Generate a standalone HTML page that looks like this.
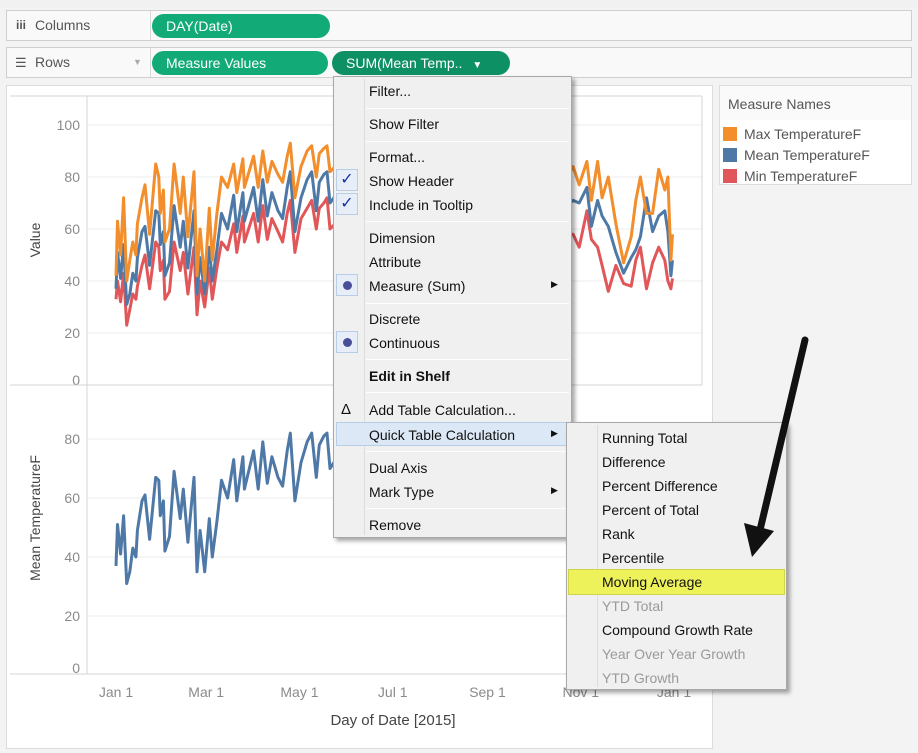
<!DOCTYPE html>
<html><head><meta charset="utf-8">
<style>
*{box-sizing:border-box;margin:0;padding:0}
body{width:918px;height:753px;background:#f3f3f3;font-family:"Liberation Sans",sans-serif;position:relative;overflow:hidden;color:#333}
.abs{position:absolute}
.shelf{position:absolute;left:6px;width:906px;background:#f9f9f9;border:1px solid #cfcfcf}
.shelf .lab{position:absolute;left:0;top:0;bottom:0;width:144px;border-right:1px solid #d8d8d8;font-size:14px;color:#555;padding-left:28px;line-height:29px}
.pill{position:absolute;height:24px;border-radius:12px;background:#12ab78;color:#fff;font-size:14px;line-height:24px;padding-left:14px}
.menu{position:absolute;background:#f0f0f0;border:1px solid #a8a8a8;box-shadow:3px 3px 4px rgba(0,0,0,.35)}
.mi{position:absolute;font-size:14px;color:#111;white-space:nowrap}
.sep{position:absolute;height:1px;background:#d7d7d7;border-bottom:1px solid #fff}
.gray{color:#9a9a9a}
.tick{font-size:14px;fill:#8a8a8a;font-family:"Liberation Sans",sans-serif}
</style></head><body>
<div class="abs" style="left:0;top:0;width:918px;height:8px;background:#f1f1f1"></div>

<div class="shelf" style="top:10px;height:31px">
  <div class="lab"><span style="position:absolute;left:9px;font-size:12px;font-weight:bold">iii</span>Columns</div>
  <div class="pill" style="left:145px;top:3px;width:178px">DAY(Date)</div>
</div>
<div class="shelf" style="top:47px;height:31px">
  <div class="lab"><span style="position:absolute;left:8px;font-size:13px">☰</span>Rows<span style="position:absolute;left:126px;font-size:9px;color:#aaa">▼</span></div>
  <div class="pill" style="left:145px;top:3px;width:176px">Measure Values</div>
  <div class="pill" style="left:325px;top:3px;width:178px;background:#0e9065">SUM(Mean Temp.. <span style="font-size:10px;margin-left:6px">▼</span></div>
</div>

<div class="abs" style="left:6px;top:85px;width:707px;height:664px;background:#fff;border:1px solid #dcdcdc"></div>

<svg class="abs" style="left:0;top:0" width="918" height="753" id="chart"></svg>

<div class="abs" style="left:719px;top:85px;width:193px;height:100px;background:#fff;border:1px solid #dcdcdc">
  <div class="abs" style="left:0;top:0;width:191px;height:34px;background:#fafafa;font-size:14px;color:#555;padding:10px 0 0 8px">Measure Names</div>
  <div class="abs" style="left:3px;top:38px;font-size:14px;color:#555;line-height:21px">
    <div><span style="display:inline-block;width:14px;height:14px;background:#f28e2b;vertical-align:-2px;margin-right:7px"></span>Max TemperatureF</div>
    <div><span style="display:inline-block;width:14px;height:14px;background:#4e79a7;vertical-align:-2px;margin-right:7px"></span>Mean TemperatureF</div>
    <div><span style="display:inline-block;width:14px;height:14px;background:#e15759;vertical-align:-2px;margin-right:7px"></span>Min TemperatureF</div>
  </div>
</div>

<div class="menu" style="left:333px;top:76px;width:239px;height:462px">
  <div class="abs" style="left:30px;top:2px;width:1px;height:456px;background:#dcdcdc"></div>
  <div class="mi" style="left:35px;top:6px">Filter...</div>
  <div class="sep" style="left:32px;top:31px;width:203px"></div>
  <div class="mi" style="left:35px;top:39px">Show Filter</div>
  <div class="sep" style="left:32px;top:64px;width:203px"></div>
  <div class="mi" style="left:35px;top:72px">Format...</div>
  <div class="abs" style="left:2px;top:92px;width:22px;height:22px;border:1px solid #b9cde6;background:#e7eef8;color:#1a2ea8;font-size:16px;text-align:center;line-height:20px">✓</div>
  <div class="mi" style="left:35px;top:96px">Show Header</div>
  <div class="abs" style="left:2px;top:116px;width:22px;height:22px;border:1px solid #b9cde6;background:#e7eef8;color:#1a2ea8;font-size:16px;text-align:center;line-height:20px">✓</div>
  <div class="mi" style="left:35px;top:120px">Include in Tooltip</div>
  <div class="sep" style="left:32px;top:144px;width:203px"></div>
  <div class="mi" style="left:35px;top:153px">Dimension</div>
  <div class="mi" style="left:35px;top:177px">Attribute</div>
  <div class="abs" style="left:2px;top:197px;width:22px;height:22px;border:1px solid #b9cde6;background:#e7eef8"><div style="margin:6px;width:9px;height:9px;border-radius:50%;background:#4a4f9a"></div></div>
  <div class="mi" style="left:35px;top:201px">Measure (Sum)</div>
  <div class="mi" style="left:217px;top:202px;font-size:9px">▶</div>
  <div class="sep" style="left:32px;top:226px;width:203px"></div>
  <div class="mi" style="left:35px;top:234px">Discrete</div>
  <div class="abs" style="left:2px;top:254px;width:22px;height:22px;border:1px solid #b9cde6;background:#e7eef8"><div style="margin:6px;width:9px;height:9px;border-radius:50%;background:#4a4f9a"></div></div>
  <div class="mi" style="left:35px;top:258px">Continuous</div>
  <div class="sep" style="left:32px;top:282px;width:203px"></div>
  <div class="mi" style="left:35px;top:291px;font-weight:bold">Edit in Shelf</div>
  <div class="sep" style="left:32px;top:315px;width:203px"></div>
  <div class="mi" style="left:7px;top:324px;font-size:15px">Δ</div>
  <div class="mi" style="left:35px;top:325px">Add Table Calculation...</div>
  <div class="abs" style="left:2px;top:345px;width:234px;height:24px;background:#dde8f6;border:1px solid #b8cde8"></div>
  <div class="mi" style="left:35px;top:350px">Quick Table Calculation</div>
  <div class="mi" style="left:217px;top:351px;font-size:9px">▶</div>
  <div class="sep" style="left:32px;top:374px;width:203px"></div>
  <div class="mi" style="left:35px;top:383px">Dual Axis</div>
  <div class="mi" style="left:35px;top:407px">Mark Type</div>
  <div class="mi" style="left:217px;top:408px;font-size:9px">▶</div>
  <div class="sep" style="left:32px;top:431px;width:203px"></div>
  <div class="mi" style="left:35px;top:440px">Remove</div>
</div>

<div class="menu" style="left:566px;top:422px;width:221px;height:268px">
  <div class="abs" style="left:30px;top:2px;width:1px;height:262px;background:#dcdcdc"></div>
  <div class="mi" style="left:35px;top:7px">Running Total</div>
  <div class="mi" style="left:35px;top:31px">Difference</div>
  <div class="mi" style="left:35px;top:55px">Percent Difference</div>
  <div class="mi" style="left:35px;top:79px">Percent of Total</div>
  <div class="mi" style="left:35px;top:103px">Rank</div>
  <div class="mi" style="left:35px;top:127px">Percentile</div>
  <div class="abs" style="left:1px;top:146px;width:217px;height:26px;background:#eef25a;border:1px solid #cfd44a"></div>
  <div class="mi" style="left:35px;top:151px">Moving Average</div>
  <div class="mi gray" style="left:35px;top:175px">YTD Total</div>
  <div class="mi" style="left:35px;top:199px">Compound Growth Rate</div>
  <div class="mi gray" style="left:35px;top:223px">Year Over Year Growth</div>
  <div class="mi gray" style="left:35px;top:247px">YTD Growth</div>
</div>

<svg class="abs" style="left:0;top:0" width="918" height="753">
  <line x1="805" y1="340" x2="760" y2="530" stroke="#111" stroke-width="7" stroke-linecap="round"/>
  <polygon points="752,557 744,523 774,531" fill="#111"/>
</svg>

<script>
const days=[0,1,3,5,7,9,11,13,14,17,19,22,26,28,29,31,32,35,38,42,44,47,51,53,55,58,61,63,66,69,73,77,79,83,84,90,93,96,99,102,106,109,112,114,117,121,125,128,131,133,136,138,140,145,152,160,168,176,184,192,200,208,216,224,232,240,248,256,264,272,280,288,295,299,303,308,311,315,318,322,327,332,337,340,343,347,351,355,359,361,363,364];
const meanT=[37,51,41,54,31,35,43,40,49,59,61,46,67,66,54,59,42,47,69,53,63,45,67,35,49,35,53,40,52,66,60,73,59,74,63,76,63,79,65,74,67,64,76,82,59,72,79,82,67,78,81,82,70,74,77,72,78,75,80,77,79,74,78,76,73,77,70,74,68,72,66,70,69,71,70,76,61,71,65,61,51,43,49,52,57,72,59,65,67,59,42,48];
const maxT=[42,63,50,72,40,48,55,50,62,72,77,58,85,80,66,75,55,60,85,66,80,57,82,42,60,40,68,48,66,80,76,85,74,87,76,88,76,90,78,86,81,78,88,93,72,84,90,92,80,89,91,92,82,85,88,84,89,86,91,88,90,85,89,87,84,88,81,85,79,83,77,81,80,84,77,86,71,86,72,80,62,47,57,71,80,66,66,83,75,80,48,58];
const minT=[33,40,32,43,23,29,35,33,38,46,50,37,55,53,44,48,33,36,55,44,51,35,53,27,40,30,45,33,45,55,52,62,51,65,55,66,55,69,56,64,59,55,66,71,51,64,68,71,60,68,70,72,60,63,66,62,67,64,69,66,68,63,67,65,62,66,59,63,57,61,55,59,58,58,53,67,56,53,46,36,46,39,38,48,53,37,47,53,48,40,37,41];
const xTicks=["Jan 1","Mar 1","May 1","Jul 1","Sep 1","Nov 1","Jan 1"];
const xTickDays=[0,59,120,181,243,304,365];
const topTicks=[0,20,40,60,80,100];
const botTicks=[0,20,40,60,80];

const NS="http://www.w3.org/2000/svg";
const svg=document.getElementById('chart');
function mk(tag,attrs,parent){const e=document.createElementNS(NS,tag);for(const k in attrs)e.setAttribute(k,attrs[k]);(parent||svg).appendChild(e);return e;}
const x=d=>116+d*(558/365);
const yTop=v=>385-v*2.6;
const yBot=v=>675-v*2.95;

// gridlines
topTicks.forEach(t=>{if(t>0){const l=mk('line',{x1:87,x2:702,y1:yTop(t),y2:yTop(t),stroke:'#ececec'});

}
const tx=mk('text',{x:80,y:Math.min(yTop(t),380)+5,'text-anchor':'end',class:'tick'});tx.textContent=t;

});
botTicks.forEach(t=>{if(t>0){const l=mk('line',{x1:87,x2:702,y1:yBot(t),y2:yBot(t),stroke:'#ececec'});

}
const tx=mk('text',{x:80,y:Math.min(yBot(t),668)+5,'text-anchor':'end',class:'tick'});tx.textContent=t;

});
// frame lines
mk('line',{x1:10,x2:702,y1:96,y2:96,stroke:'#d4d4d4'});
mk('line',{x1:10,x2:702,y1:385,y2:385,stroke:'#d4d4d4'});
mk('line',{x1:10,x2:702,y1:674,y2:674,stroke:'#d4d4d4'});
mk('line',{x1:87,x2:87,y1:96,y2:674,stroke:'#d4d4d4'});
mk('line',{x1:702,x2:702,y1:96,y2:385,stroke:'#d4d4d4'});
xTicks.forEach((t,i)=>{const tx=mk('text',{x:x(xTickDays[i]),y:697,'text-anchor':'middle',class:'tick'});tx.textContent=t;

});
const xt=mk('text',{x:393,y:725,'text-anchor':'middle',style:'font-size:15px;fill:#444'});xt.textContent='Day of Date [2015]';


const y1=mk('text',{x:0,y:0,transform:'translate(40,240) rotate(-90)','text-anchor':'middle',style:'font-size:14px;fill:#444'});y1.textContent='Value';


const y2=mk('text',{x:0,y:0,transform:'translate(40,518) rotate(-90)','text-anchor':'middle',style:'font-size:14px;fill:#444'});y2.textContent='Mean TemperatureF';



function line(vals,yf,color,name){const p=mk('polyline',{points:days.map((d,i)=>x(d).toFixed(1)+','+yf(vals[i]).toFixed(1)).join(' '),fill:'none',stroke:color,'stroke-width':3,'stroke-linejoin':'round'});

}
line(minT,yTop,'#e15759','min-temp-line');
line(meanT,yTop,'#4e79a7','mean-temp-line');
line(maxT,yTop,'#f28e2b','max-temp-line');
line(meanT,yBot,'#4e79a7','mean-temp-bottom-line');
</script>
</body></html>
